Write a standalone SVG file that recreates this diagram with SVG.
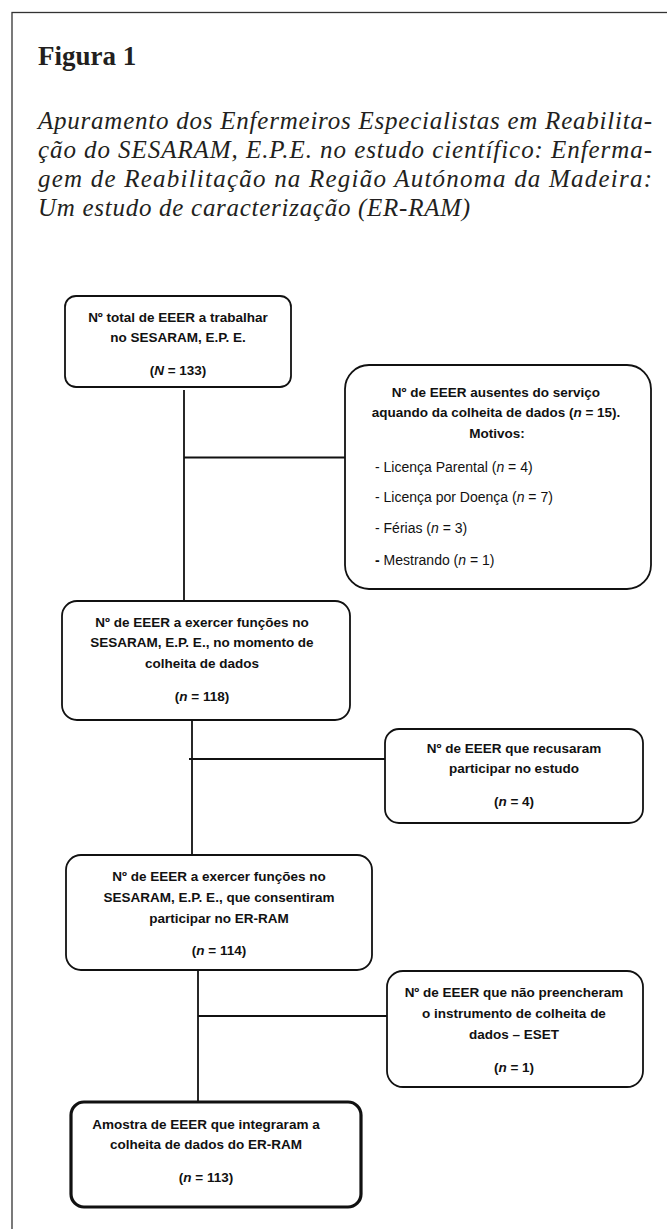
<svg xmlns="http://www.w3.org/2000/svg" width="667" height="1229" viewBox="0 0 667 1229">
<style>
.frame{fill:none;stroke:#333;stroke-width:1.3}
.hd{font-family:"Liberation Serif",serif;font-weight:bold;font-size:27px;fill:#231f20}
.cap{font-family:"Liberation Serif",serif;font-style:italic;font-size:25px;fill:#231f20}
.box{fill:#fff;stroke:#111;stroke-width:1.8}
.box.strong{stroke-width:3.2}
.t{font-family:"Liberation Sans",Arial,sans-serif;font-size:13.5px;font-weight:bold;fill:#111;text-anchor:middle}
.r{font-family:"Liberation Sans",Arial,sans-serif;font-size:14px;fill:#111}
.i{font-style:italic}
.c{fill:none;stroke:#111;stroke-width:1.8}
</style>
<rect width="667" height="1229" fill="#fff"/>
<rect class="frame" x="12" y="12.5" width="720" height="1300"/>
<g id="title">
<text class="hd" x="38" y="65">Figura 1</text>
<text class="cap" x="38" y="129" textLength="614" lengthAdjust="spacing">Apuramento dos Enfermeiros Especialistas em Reabilita-</text>
<text class="cap" x="38" y="158" textLength="614" lengthAdjust="spacing">ção do SESARAM, E.P.E. no estudo científico: Enferma-</text>
<text class="cap" x="38" y="187" textLength="614" lengthAdjust="spacing">gem de Reabilitação na Região Autónoma da Madeira:</text>
<text class="cap" x="38" y="216" textLength="432" lengthAdjust="spacing">Um estudo de caracterização (ER-RAM)</text>
</g>
<g id="connectors">
<line class="c" x1="184" y1="390" x2="184" y2="601"/>
<line class="c" x1="184" y1="457.5" x2="345" y2="457.5"/>
<line class="c" x1="192" y1="720" x2="192" y2="855"/>
<line class="c" x1="189" y1="759" x2="385" y2="759"/>
<line class="c" x1="198" y1="970" x2="198" y2="1102"/>
<line class="c" x1="198" y1="1016" x2="387" y2="1016"/>
</g>
<g id="n1">
<rect class="box" x="65" y="296" width="226" height="91" rx="11"/>
<text class="t" x="178" y="322">Nº total de EEER a trabalhar</text>
<text class="t" x="178" y="342">no SESARAM, E.P. E.</text>
<text class="t" x="178" y="375">(<tspan class="i">N</tspan> = 133)</text>
</g>
<g id="n2">
<rect class="box" x="345" y="365" width="306" height="224" rx="24"/>
<text class="t" x="496" y="397">Nº de EEER ausentes do serviço</text>
<text class="t" x="496" y="417">aquando da colheita de dados (<tspan class="i">n</tspan> = 15).</text>
<text class="t" x="497" y="438">Motivos:</text>
<text class="r" x="375" y="472">- Licença Parental (<tspan class="i">n</tspan> = 4)</text>
<text class="r" x="375" y="502">- Licença por Doença (<tspan class="i">n</tspan> = 7)</text>
<text class="r" x="375" y="533">- Férias (<tspan class="i">n</tspan> = 3)</text>
<text class="r" x="375" y="565"><tspan font-weight="bold">-</tspan> Mestrando (<tspan class="i">n</tspan> = 1)</text>
</g>
<g id="n3">
<rect class="box" x="62" y="601" width="288" height="119" rx="15"/>
<text class="t" x="202" y="627">Nº de EEER a exercer funções no</text>
<text class="t" x="202" y="647">SESARAM, E.P. E., no momento de</text>
<text class="t" x="202" y="668">colheita de dados</text>
<text class="t" x="202" y="701">(<tspan class="i">n</tspan> = 118)</text>
</g>
<g id="n4">
<rect class="box" x="385" y="729" width="258" height="94" rx="14"/>
<text class="t" x="514" y="753">Nº de EEER que recusaram</text>
<text class="t" x="514" y="773">participar no estudo</text>
<text class="t" x="514" y="806">(<tspan class="i">n</tspan> = 4)</text>
</g>
<g id="n5">
<rect class="box" x="66" y="855" width="306" height="115" rx="15"/>
<text class="t" x="219" y="881">Nº de EEER a exercer funções no</text>
<text class="t" x="219" y="902">SESARAM, E.P. E., que consentiram</text>
<text class="t" x="219" y="923">participar no ER-RAM</text>
<text class="t" x="219" y="955">(<tspan class="i">n</tspan> = 114)</text>
</g>
<g id="n6">
<rect class="box" x="387" y="971" width="256" height="116" rx="16"/>
<text class="t" x="514" y="997">Nº de EEER que não preencheram</text>
<text class="t" x="514" y="1018">o instrumento de colheita de</text>
<text class="t" x="514" y="1039">dados – ESET</text>
<text class="t" x="514" y="1072">(<tspan class="i">n</tspan> = 1)</text>
</g>
<g id="n7">
<rect class="box strong" x="71" y="1102" width="290" height="105" rx="13"/>
<text class="t" x="206" y="1129">Amostra de EEER que integraram a</text>
<text class="t" x="206" y="1149">colheita de dados do ER-RAM</text>
<text class="t" x="206" y="1182">(<tspan class="i">n</tspan> = 113)</text>
</g>
</svg>
